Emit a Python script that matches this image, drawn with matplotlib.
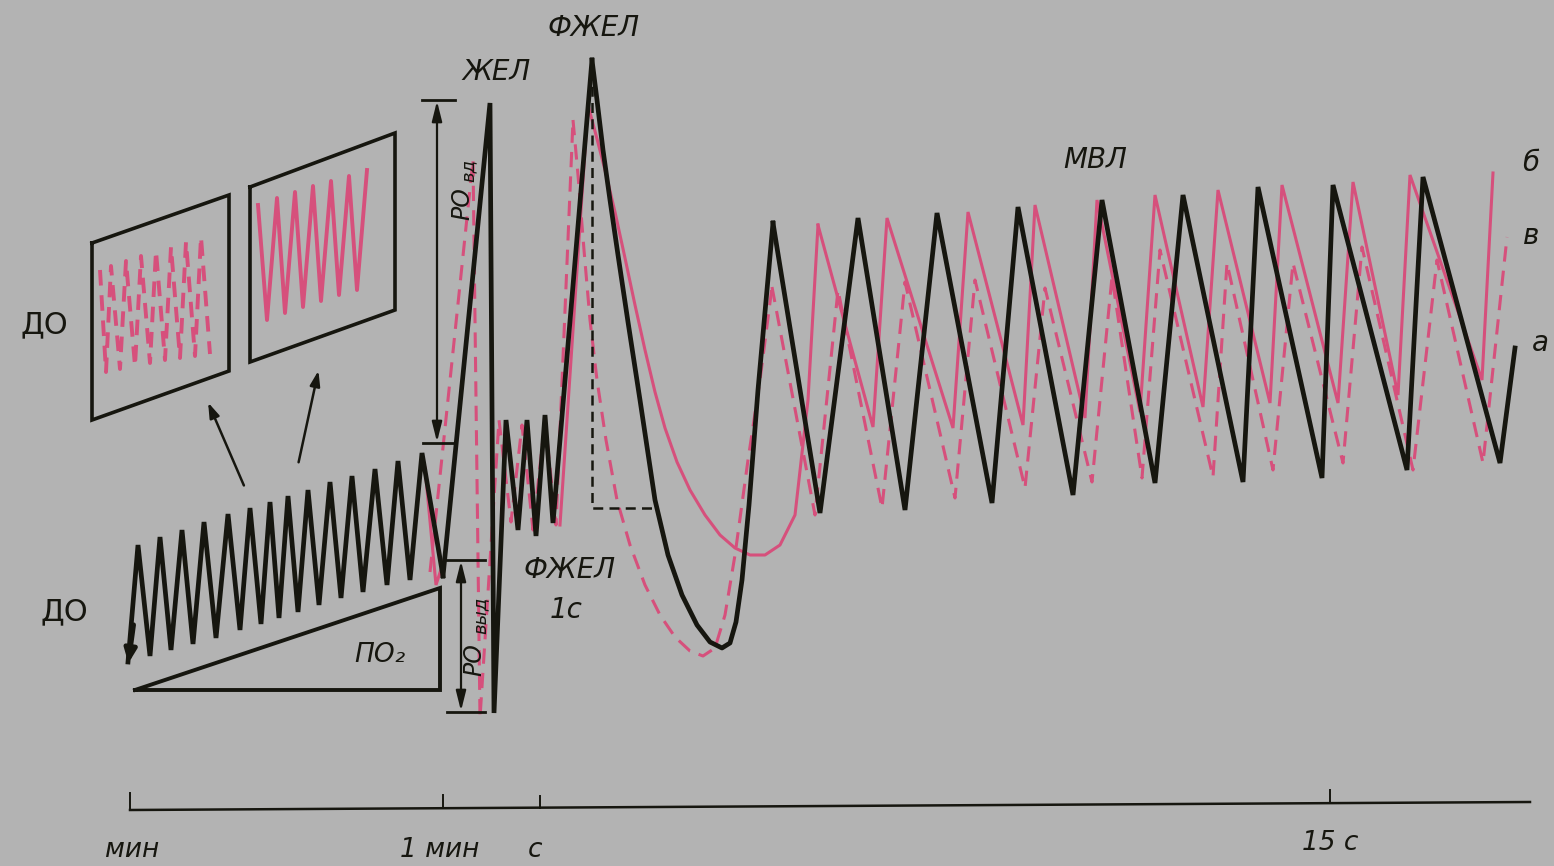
import matplotlib
matplotlib.use("Agg")
import matplotlib.pyplot as plt
import numpy as np

BG = "#b3b3b3"
BLACK = "#16160f"
PINK = "#d6507c"

# ---------------- data (time axis -> x, volume -> y, drawing units) ----------------
# quiet breathing (ДО), black trace
qb_x = [128, 138, 150, 160, 171, 182, 193, 204, 216, 228, 240, 250, 261, 270, 279, 288,
        298, 308, 319, 330, 341, 352, 363, 375, 387, 398, 410, 422, 443]
qb_y = [662, 545, 656, 537, 650, 530, 644, 522, 638, 514, 630, 508, 624, 502, 618, 496,
        612, 490, 605, 482, 598, 476, 592, 469, 585, 461, 580, 453, 576]

# black trace "а": ЖЕЛ, small breaths, ФЖЕЛ
a_x1 = [443, 490, 494, 506, 518, 527, 536, 545, 553, 592]
a_y1 = [576, 103, 713, 420, 530, 420, 536, 415, 523, 60]
# forced expiration curve (black)
a_fx = [592, 597, 603, 610, 618, 628, 640, 655, 668, 682, 697, 710, 722, 730, 736, 742,
        749, 758, 773]
a_fy = [60, 100, 150, 200, 255, 322, 400, 500, 555, 595, 625, 642, 648, 643, 622, 580,
        505, 390, 223]
# МВЛ black
a_mx = [773, 820, 858, 905, 937, 992, 1018, 1073, 1102, 1155, 1183, 1243, 1258, 1322, 1333,
        1407, 1423, 1500, 1515]
a_my = [223, 513, 218, 510, 213, 503, 207, 495, 200, 483, 195, 482, 187, 478, 185,
        470, 177, 463, 348]

# pink solid trace "б"
b_x = [425, 436, 444]
b_y = [468, 585, 560]
b_fx = [560, 588, 596, 605, 615, 625, 635, 645, 655, 665, 677, 690, 705, 720, 735, 750,
        765, 780, 795, 808, 818]
b_fy = [525, 105, 135, 170, 212, 258, 305, 350, 392, 428, 462, 490, 515, 535, 548, 555,
        555, 545, 515, 400, 225]
b_mx = [818, 873, 887, 953, 968, 1023, 1035, 1085, 1097, 1140, 1155, 1203, 1218, 1270,
        1282, 1338, 1353, 1398, 1410, 1482, 1493]
b_my = [225, 427, 218, 428, 212, 425, 205, 418, 200, 412, 195, 407, 190, 403,
        185, 403, 182, 395, 175, 380, 173]

# pink dashed trace "в"
v_x1 = [430, 473, 480, 499, 511, 522, 533, 545, 556, 573]
v_y1 = [572, 160, 718, 420, 522, 425, 530, 420, 525, 120]
v_fx = [573, 578, 584, 590, 597, 606, 617, 630, 645, 660, 675, 690, 703, 715, 725, 735,
        748, 760, 772]
v_fy = [120, 175, 250, 320, 380, 440, 500, 545, 585, 615, 637, 651, 656, 648, 615, 555,
        460, 380, 287]
v_mx = [772, 815, 838, 882, 905, 955, 975, 1025, 1045, 1092, 1112, 1142, 1160, 1213, 1227,
        1273, 1293, 1343, 1362, 1413, 1437, 1483, 1507]
v_my = [287, 515, 290, 508, 282, 498, 280, 488, 288, 482, 277, 478, 250, 477, 263,
        470, 263, 463, 247, 470, 260, 463, 237]

# ПО2 triangle
po2_x = [135, 440, 440, 135]
po2_y = [690, 588, 690, 690]

# inset boxes (parallelograms)
box1_x = [92, 229, 229, 92, 92]
box1_y = [243, 195, 371, 420, 243]
box2_x = [250, 395, 395, 250, 250]
box2_y = [187, 133, 310, 362, 187]
# inset traces
in1_x = [100, 106, 111, 120, 126, 135, 141, 150, 156, 165, 171, 180, 186, 195, 201, 210]
in1_y = [270, 372, 266, 369, 261, 366, 256, 363, 251, 360, 247, 358, 242, 356, 237, 354]
in2_x = [258, 267, 277, 285, 295, 303, 313, 321, 331, 339, 349, 357, 367]
in2_y = [205, 320, 198, 313, 192, 307, 186, 301, 181, 295, 176, 290, 170]

# time axis
axis_x = [130, 1530]
axis_y = [810, 802]
tick_x = [130, 443, 540, 1330]
tick_top = [793, 795, 796, 790]
tick_labels = ["мин", "1 мин", "с", "15 с"]
tick_label_x = [132, 440, 535, 1330]
tick_label_y = [850, 850, 850, 843]

# ---------------- drawing ----------------
fig = plt.figure(figsize=(15.54, 8.66), dpi=100, facecolor=BG)
ax = fig.add_axes([0, 0, 1, 1])
ax.set_facecolor(BG)
ax.set_xlim(0, 1554)
ax.set_ylim(866, 0)
ax.axis("off")

LWB = 3.4
LWP = 2.2
dash = (0, (5, 3))

# pink traces first
ax.plot(b_x, b_y, color=PINK, lw=LWP, solid_joinstyle="miter")
ax.plot(b_fx, b_fy, color=PINK, lw=LWP, solid_joinstyle="round")
ax.plot(b_mx, b_my, color=PINK, lw=LWP, solid_joinstyle="miter")
ax.plot(v_x1, v_y1, color=PINK, lw=LWP, ls=dash)
ax.plot(v_fx, v_fy, color=PINK, lw=LWP, ls=dash)
ax.plot(v_mx, v_my, color=PINK, lw=LWP, ls=dash)

# inset contents
ax.plot(in1_x, in1_y, color=PINK, lw=LWP + 0.6, ls=(0, (4, 2.5)))
ax.plot(in2_x, in2_y, color=PINK, lw=LWP + 0.6)
ax.plot(box1_x, box1_y, color=BLACK, lw=2.6, solid_joinstyle="miter")
ax.plot(box2_x, box2_y, color=BLACK, lw=2.6, solid_joinstyle="miter")

# black trace
ax.plot(qb_x, qb_y, color=BLACK, lw=LWB, solid_joinstyle="miter")
ax.annotate("", xy=(qb_x[0], qb_y[0] + 4), xytext=(qb_x[1] - 4, qb_y[0] - 40),
            arrowprops=dict(arrowstyle="-|>,head_length=0.8,head_width=0.35",
                            color=BLACK, lw=LWB))
ax.plot(a_x1, a_y1, color=BLACK, lw=LWB, solid_joinstyle="miter")
ax.plot(a_fx, a_fy, color=BLACK, lw=LWB, solid_joinstyle="round")
ax.plot(a_mx, a_my, color=BLACK, lw=LWB, solid_joinstyle="miter")

# FEV1 dashed box
ax.plot([592, 592, 655], [70, 508, 508], color=BLACK, lw=1.8, ls=(0, (4, 2.5)))

# ПО2 triangle
ax.plot(po2_x, po2_y, color=BLACK, lw=2.8, solid_joinstyle="miter")

# arrows to inset boxes
ax.annotate("", xy=(207, 400), xytext=(245, 488),
            arrowprops=dict(arrowstyle="-|>,head_length=0.9,head_width=0.3", color=BLACK, lw=1.8))
ax.annotate("", xy=(319, 368), xytext=(298, 465),
            arrowprops=dict(arrowstyle="-|>,head_length=0.9,head_width=0.3", color=BLACK, lw=1.8))

# РОвд and РОвыд dimension arrows
ax.plot([422, 455], [100, 100], color=BLACK, lw=2.0)
ax.plot([423, 455], [443, 443], color=BLACK, lw=2.0)
ax.annotate("", xy=(437, 101), xytext=(437, 442),
            arrowprops=dict(arrowstyle="<|-|>,head_length=1.2,head_width=0.3",
                            color=BLACK, lw=1.6, shrinkA=0, shrinkB=0))
ax.plot([447, 485], [560, 560], color=BLACK, lw=2.0)
ax.plot([447, 485], [712, 712], color=BLACK, lw=2.0)
ax.annotate("", xy=(461, 561), xytext=(461, 711),
            arrowprops=dict(arrowstyle="<|-|>,head_length=1.2,head_width=0.3",
                            color=BLACK, lw=1.6, shrinkA=0, shrinkB=0))

# time axis
ax.plot(axis_x, axis_y, color=BLACK, lw=1.8)
for tx, tt in zip(tick_x, tick_top):
    yb = np.interp(tx, axis_x, axis_y)
    ax.plot([tx, tx], [yb, tt], color=BLACK, lw=1.4)
for lab, lx, ly in zip(tick_labels, tick_label_x, tick_label_y):
    ax.text(lx, ly, lab, ha="center", va="center", fontsize=19, style="italic",
            color=BLACK, family="DejaVu Sans")

# labels
it = dict(style="italic", color=BLACK, family="DejaVu Sans", ha="center", va="center")
ax.text(497, 72, "ЖЕЛ", fontsize=20, **it)
ax.text(594, 28, "ФЖЕЛ", fontsize=20, **it)
ax.text(1095, 160, "МВЛ", fontsize=20, **it)
ax.text(570, 570, "ФЖЕЛ", fontsize=20, **it)
ax.text(566, 610, "1с", fontsize=20, **it)
ax.text(380, 655, "ПО₂", fontsize=19, **it)
ax.text(1531, 163, "б", fontsize=20, **it)
ax.text(1531, 236, "в", fontsize=20, **it)
ax.text(1540, 343, "а", fontsize=20, **it)
ax.text(462, 204, "РО", fontsize=17, rotation=90, **it)
ax.text(469, 170, "вд", fontsize=13, rotation=90, **it)
ax.text(474, 660, "РО", fontsize=17, rotation=90, **it)
ax.text(481, 615, "выд", fontsize=13, rotation=90, **it)

up = dict(color=BLACK, family="DejaVu Sans", ha="center", va="center")
ax.text(44, 325, "ДО", fontsize=22, **up)
ax.text(64, 612, "ДО", fontsize=22, **up)

fig.savefig("out.png", dpi=100, facecolor=BG)
